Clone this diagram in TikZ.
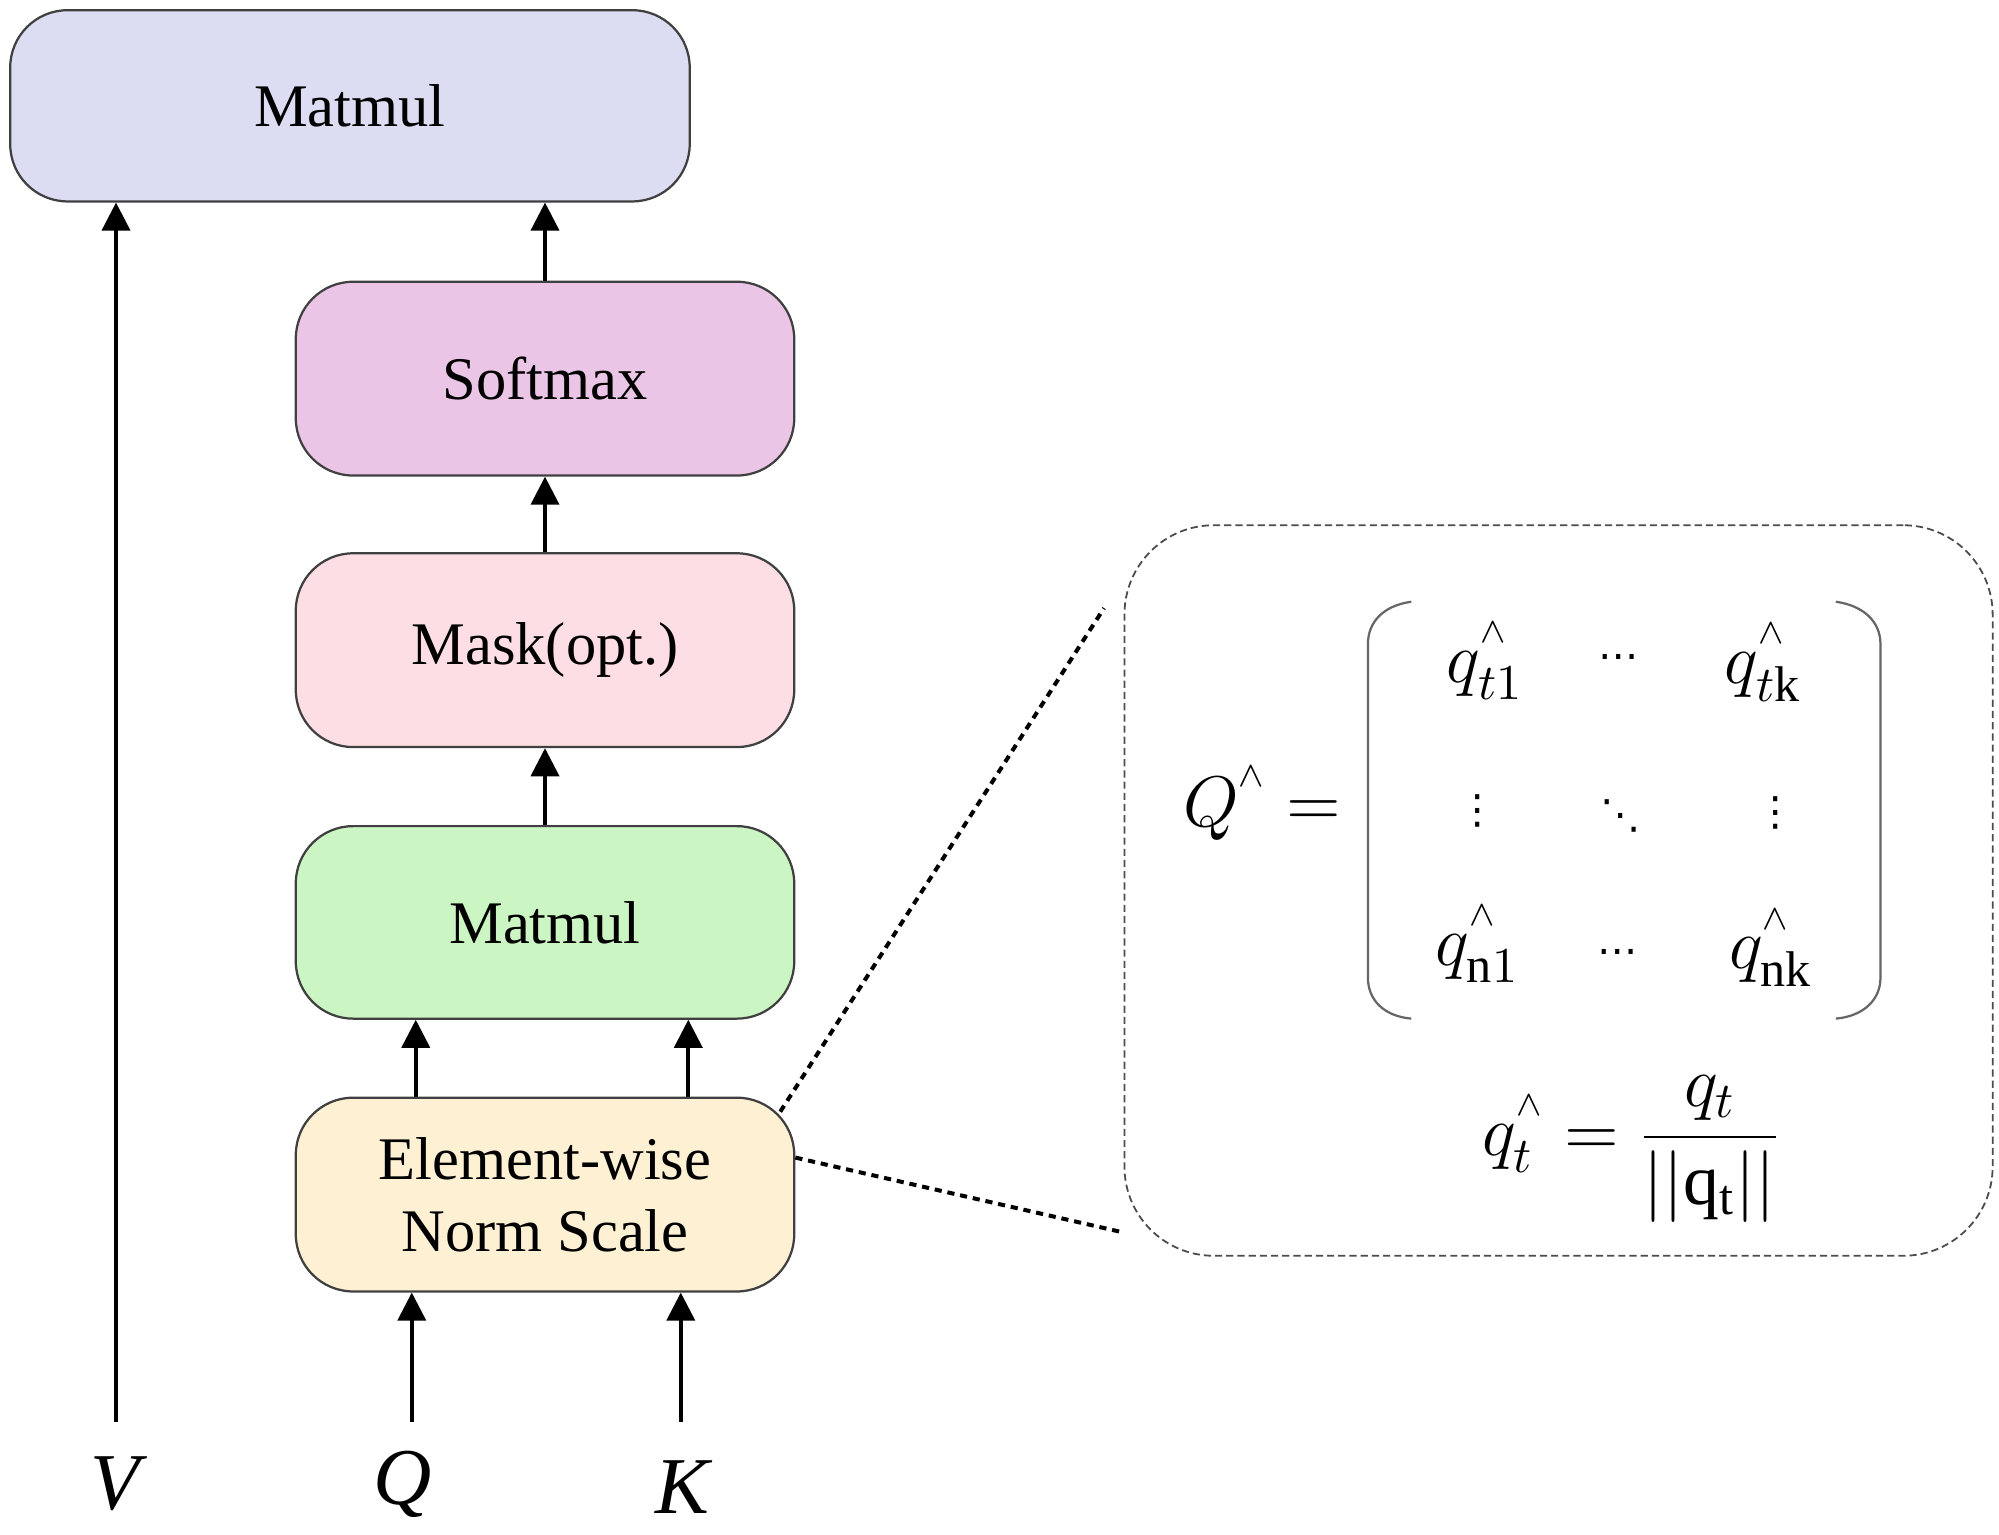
\RequirePackage{fix-cm}
\documentclass[tikz,border=0pt]{standalone}
\usepackage{fontspec}
\setmainfont{Liberation Serif}
\newfontfamily\dejavu{DejaVu Sans}
\usetikzlibrary{arrows.meta,calc}
\definecolor{cTop}{HTML}{DCDDF3}
\definecolor{cSoft}{HTML}{EAC5E6}
\definecolor{cMask}{HTML}{FCDEE4}
\definecolor{cMat}{HTML}{CCF5C4}
\definecolor{cElem}{HTML}{FDF0D3}
\newcommand{\hatmark}{\raisebox{3pt}{$\scriptscriptstyle\wedge$}}
\begin{document}
\begin{tikzpicture}[
  box/.style={draw=black!75, line width=0.5pt, rounded corners=0.45cm,
    minimum width=3.91cm, minimum height=1.52cm, inner sep=0pt, align=center,
    font=\fontsize{13.5}{16}\selectfont},
  arr/.style={line width=0.8pt, -{Triangle[width=0.22cm,length=0.22cm]}},
  lab/.style={inner sep=0pt, anchor=base, font=\fontsize{18}{20}\selectfont\itshape},
  dotl/.style={line width=0.9pt, dash pattern=on 1.6pt off 1.3pt},
  mth/.style={inner sep=0pt, anchor=base, font=\fontsize{16}{19}\selectfont},
  dts/.style={inner sep=0pt, anchor=center, font=\fontsize{9}{9}\selectfont\dejavu},
  paren/.style={draw=black!60, line width=0.5pt}
]
\useasboundingbox (0,0) rectangle (15.68,-12.04);

% boxes
\node[box, fill=cTop, minimum width=5.33cm, minimum height=1.50cm] (top) at (2.745,-0.83) {Matmul};
\node[box, fill=cSoft] (soft) at (4.275,-2.97) {Softmax};
\node[box, fill=cMask] (mask) at (4.275,-5.10) {Mask(opt.)};
\node[box, fill=cMat, minimum height=1.51cm] (mat) at (4.275,-7.235) {Matmul};
\node[box, fill=cElem] (elem) at (4.275,-9.37) {Element-wise\\Norm Scale};

% inputs
\node[lab] (vl) at (0.90,-11.84) {V};
\node[lab] (ql) at (3.16,-11.80) {Q};
\node[lab] (kl) at (5.35,-11.87) {K};
\coordinate (vs) at (0.91,-11.15);
\coordinate (qs) at (3.23,-11.15);
\coordinate (ks) at (5.34,-11.15);

% arrows
\draw[arr] (vs) -- (vs |- top.south);
\draw[arr] (qs) -- (qs |- elem.south);
\draw[arr] (ks) -- (ks |- elem.south);
\coordinate (e1) at ($(elem.north west)+(0.95,0)$);
\coordinate (e2) at ($(elem.north east)+(-0.84,0)$);
\draw[arr] (e1) -- (e1 |- mat.south);
\draw[arr] (e2) -- (e2 |- mat.south);
\draw[arr] (mat.north) -- (mask.south);
\draw[arr] (mask.north) -- (soft.south);
\draw[arr] (soft.north) -- (soft.north |- top.south);

% zoom box
\node[draw=black!70, line width=0.4pt, dash pattern=on 1.6pt off 0.9pt,
  rounded corners=0.7cm, minimum width=6.81cm, minimum height=5.73cm, inner sep=0pt]
  (zb) at (12.225,-6.985) {};
\coordinate (d1s) at ($(elem.center)+(1.845,0.65)$);
\coordinate (d1e) at (8.66,-4.77);
\coordinate (d2s) at ($(elem.east)+(0,0.29)$);
\coordinate (d2e) at (8.78,-9.66);
\draw[dotl] (d1s) -- (d1e);
\draw[dotl] (d2s) -- (d2e);

% matrix parentheses
\draw[paren] (11.07,-4.72) .. controls (10.85,-4.75) and (10.73,-4.88) .. (10.73,-5.05)
  -- (10.73,-7.67) .. controls (10.73,-7.84) and (10.85,-7.97) .. (11.07,-7.99);
\draw[paren] (14.40,-4.72) .. controls (14.62,-4.75) and (14.75,-4.88) .. (14.75,-5.05)
  -- (14.75,-7.67) .. controls (14.75,-7.84) and (14.62,-7.97) .. (14.40,-7.99);

% matrix content
\node[mth] (qhat) at (9.90,-6.48) {$Q^{\hatmark} =$};
\node[mth] (m11) at (11.65,-5.35) {$q^{\hatmark}_{t1}$};
\node[dts] (m12) at (12.70,-5.19) {⋯};
\node[mth] (m13) at (13.83,-5.36) {$q^{\hatmark}_{t\mathrm{k}}$};
\node[dts] (m21) at (11.59,-6.36) {⋮};
\node[dts] (m22) at (12.71,-6.40) {⋱};
\node[dts] (m23) at (13.93,-6.38) {⋮};
\node[mth] (m31) at (11.59,-7.57) {$q^{\hatmark}_{\mathrm{n}1}$};
\node[dts] (m32) at (12.69,-7.51) {⋯};
\node[mth] (m33) at (13.89,-7.60) {$q^{\hatmark}_{\mathrm{nk}}$};

% normalisation formula
\node[mth] (form) at (12.80,-9.06) {$q^{\hatmark}_{t} = {\displaystyle\frac{q_t}{||\mathrm{q}_\mathrm{t}||}}$};
\end{tikzpicture}
\end{document}
